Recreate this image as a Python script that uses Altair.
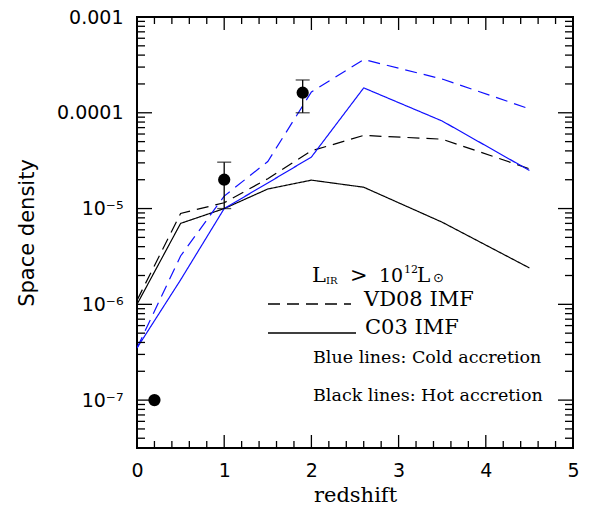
import math
import altair as alt
import pandas as pd

# ---------------- data ----------------
z_model = [0.0, 0.5, 1.0, 1.5, 2.0, 2.6, 3.5, 4.5]
hot_c03 = [1.0e-6, 7.0e-6, 1.0e-5, 1.6e-5, 1.98e-5, 1.67e-5, 7.2e-6, 2.4e-6]
hot_vd08 = [1.1e-6, 8.9e-6, 1.15e-5, 2.05e-5, 4.0e-5, 5.8e-5, 5.3e-5, 2.6e-5]
cold_c03 = [3.5e-7, 1.8e-6, 1.0e-5, 1.85e-5, 3.45e-5, 1.82e-4, 8.2e-5, 2.5e-5]
cold_vd08 = [3.5e-7, 3.2e-6, 1.35e-5, 3.1e-5, 1.65e-4, 3.6e-4, 2.25e-4, 1.1e-4]

obs_z = [0.2, 1.0, 1.9]
obs_density = [1.0e-7, 2.0e-5, 1.62e-4]
err_z = [1.0, 1.9]
err_lo = [1.0e-5, 1.0e-4]
err_hi = [3.05e-5, 2.2e-4]

x_major = [0, 1, 2, 3, 4, 5]
x_minor = [0.2, 0.4, 0.6, 0.8, 1.2, 1.4, 1.6, 1.8, 2.2, 2.4, 2.6, 2.8,
           3.2, 3.4, 3.6, 3.8, 4.2, 4.4, 4.6, 4.8]
y_major = [1e-7, 1e-6, 1e-5, 1e-4, 1e-3]
y_major_labels = ["10⁻⁷", "10⁻⁶", "10⁻⁵", "0.0001", "0.001"]
y_minor = [4e-8, 5e-8, 6e-8, 7e-8, 8e-8, 9e-8,
           2e-7, 3e-7, 4e-7, 5e-7, 6e-7, 7e-7, 8e-7, 9e-7,
           2e-6, 3e-6, 4e-6, 5e-6, 6e-6, 7e-6, 8e-6, 9e-6,
           2e-5, 3e-5, 4e-5, 5e-5, 6e-5, 7e-5, 8e-5, 9e-5,
           2e-4, 3e-4, 4e-4, 5e-4, 6e-4, 7e-4, 8e-4, 9e-4]

series_names = ["hot_c03", "hot_vd08", "cold_c03", "cold_vd08"]
series_colors = ["#000000", "#000000", "#1010ff", "#1010ff"]
series_dash = [[1, 0], [12, 7], [1, 0], [12, 7]]

# ---------------- layout ----------------
W, H = 436, 431
L0, T0 = 137, 17
YMIN, YMAX = 10 ** -7.5, 1e-3

lines = []
for name, vals in zip(series_names, [hot_c03, hot_vd08, cold_c03, cold_vd08]):
    for z, v in zip(z_model, vals):
        lines.append({"z": z, "density": v, "series": name})
lines_df = pd.DataFrame(lines)

xscale = alt.Scale(domain=[0, 5], nice=False, zero=False, padding=0)
yscale = alt.Scale(type="log", domain=[YMIN, YMAX], nice=False, padding=0)

label_expr = ""
for v, lab in zip(y_major, y_major_labels):
    label_expr += f"abs(log(datum.value)/LN10 - ({int(round(math.log10(v)))})) < 0.01 ? '{lab}' : "
label_expr += "''"

xaxis = alt.Axis(values=x_major, format="d", ticks=False, domain=False, grid=False,
                 labelFlush=False, labelFont="DejaVu Sans", labelFontSize=19, labelPadding=13,
                 labelColor="black", title="redshift", titleFont="DejaVu Serif",
                 titleFontSize=21, titleFontWeight="normal", titleColor="black",
                 titlePadding=4)
yaxis = alt.Axis(values=y_major, ticks=False, domain=False, grid=False,
                 labelFlush=False, labelExpr=label_expr, labelFont="DejaVu Sans", labelFontSize=19,
                 labelPadding=14, labelColor="black", title="Space density",
                 titleFont="DejaVu Sans", titleFontSize=21, titleFontWeight="normal",
                 titleColor="black", titlePadding=19)

base_lines = alt.Chart(lines_df).mark_line(strokeWidth=1.2, clip=True).encode(
    x=alt.X("z:Q", scale=xscale, axis=xaxis),
    y=alt.Y("density:Q", scale=yscale, axis=yaxis),
    color=alt.Color("series:N", scale=alt.Scale(domain=series_names, range=series_colors), legend=None),
    strokeDash=alt.StrokeDash("series:N", scale=alt.Scale(domain=series_names, range=series_dash), legend=None),
    detail="series:N",
)

obs_df = pd.DataFrame({"z": obs_z, "density": obs_density})
points = alt.Chart(obs_df).mark_circle(size=150, color="black", opacity=1).encode(
    x=alt.X("z:Q", scale=xscale), y=alt.Y("density:Q", scale=yscale))

err_df = pd.DataFrame({"z": err_z, "lo": err_lo, "hi": err_hi})
err_rules = alt.Chart(err_df).mark_rule(color="black", strokeWidth=1.3).encode(
    x=alt.X("z:Q", scale=xscale), y=alt.Y("lo:Q", scale=yscale), y2="hi:Q")
cap_lo = alt.Chart(err_df).mark_tick(color="black", orient="horizontal", size=14, thickness=1.3).encode(
    x=alt.X("z:Q", scale=xscale), y=alt.Y("lo:Q", scale=yscale))
cap_hi = alt.Chart(err_df).mark_tick(color="black", orient="horizontal", size=14, thickness=1.3).encode(
    x=alt.X("z:Q", scale=xscale), y=alt.Y("hi:Q", scale=yscale))

# ---------------- inward ticks ----------------
def xticks(vals, length):
    df = pd.DataFrame({"v": vals})
    bot = alt.Chart(df).mark_rule(color="black", strokeWidth=1.3).encode(
        x=alt.X("v:Q", scale=xscale), y=alt.value(H), y2=alt.value(H - length))
    top = alt.Chart(df).mark_rule(color="black", strokeWidth=1.3).encode(
        x=alt.X("v:Q", scale=xscale), y=alt.value(0), y2=alt.value(length))
    return [bot, top]

def yticks(vals, length):
    df = pd.DataFrame({"v": vals})
    left = alt.Chart(df).mark_rule(color="black", strokeWidth=1.3).encode(
        y=alt.Y("v:Q", scale=yscale), x=alt.value(0), x2=alt.value(length))
    right = alt.Chart(df).mark_rule(color="black", strokeWidth=1.3).encode(
        y=alt.Y("v:Q", scale=yscale), x=alt.value(W), x2=alt.value(W - length))
    return [left, right]

tick_layers = xticks(x_major, 13) + xticks(x_minor, 7) + yticks(y_major, 15) + yticks(y_minor, 8)

# ---------------- annotations ----------------
one = pd.DataFrame({"a": [0]})

def txt(s, px, py, size, font="DejaVu Serif", baseline="alphabetic"):
    return alt.Chart(one).mark_text(text=s, font=font, fontSize=size, align="left",
                                    baseline=baseline, color="black").encode(
        x=alt.value(px - L0), y=alt.value(py - T0))

def sample(px1, px2, py, dash):
    return alt.Chart(one).mark_rule(color="black", strokeWidth=1.3, strokeDash=dash).encode(
        x=alt.value(px1 - L0), x2=alt.value(px2 - L0), y=alt.value(py - T0))

annotations = [
    txt("L", 312, 282, 21),
    txt("IR", 326, 284, 10),
    txt(">", 350, 282, 21),
    txt("10", 379, 282, 19),
    txt("12", 404, 273, 11),
    txt("L", 417, 282, 20),
    txt("⊙", 433, 282, 13, font="DejaVu Sans"),
    txt("VD08 IMF", 364, 306, 21),
    txt("C03 IMF", 365, 334, 21),
    txt("Blue lines: Cold accretion", 313, 363, 17.5),
    txt("Black lines: Hot accretion", 313, 401, 17.5),
    sample(268, 351, 304, [12, 7]),
    sample(268, 356, 333, [1, 0]),
]

chart = alt.layer(base_lines, err_rules, cap_lo, cap_hi, points, *tick_layers, *annotations).properties(
    width=W, height=H,
    autosize=alt.AutoSizeParams(type="none"),
    padding={"left": L0, "top": T0, "right": 589 - L0 - W, "bottom": 508 - T0 - H},
    background="white",
).configure_view(stroke="black", strokeWidth=2)

chart.save("out.html", embed_options={"renderer": "svg", "actions": False})
